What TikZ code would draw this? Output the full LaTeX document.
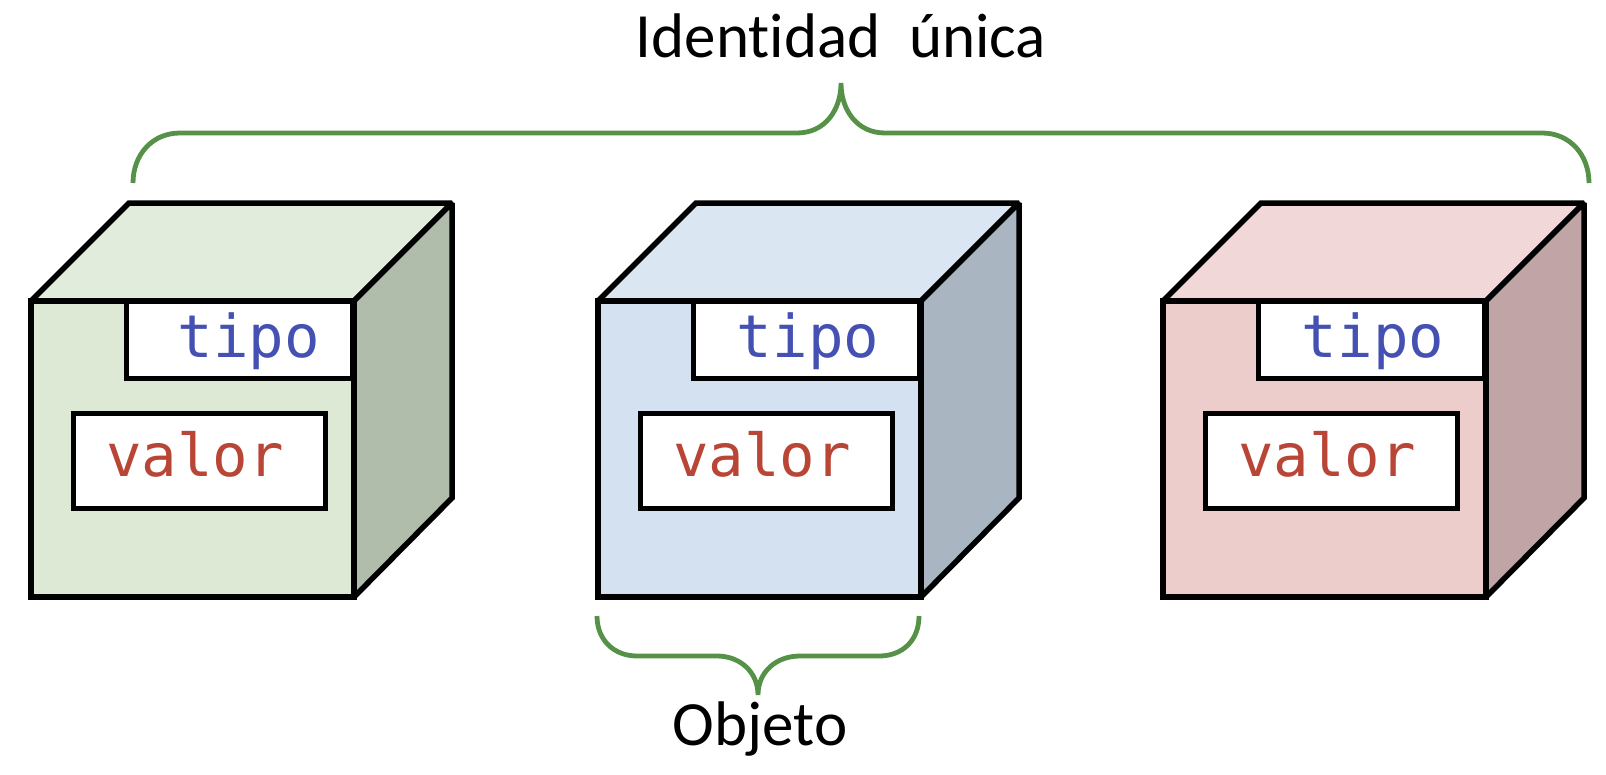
\documentclass[tikz,border=0pt]{standalone}
\usepackage{fontspec}
\setmainfont{Carlito}[Ligatures={NoCommon}]
\newfontfamily\codefont{DejaVu Sans Mono}
\definecolor{gfront}{HTML}{DDE8D5}
\definecolor{gtop}{HTML}{E2ECDD}
\definecolor{gside}{HTML}{B1BDAB}
\definecolor{bfront}{HTML}{D4E1F0}
\definecolor{btop}{HTML}{DBE6F3}
\definecolor{bside}{HTML}{A9B5C0}
\definecolor{rfront}{HTML}{EDCDCB}
\definecolor{rtop}{HTML}{F2D7D8}
\definecolor{rside}{HTML}{C1A4A5}
\definecolor{tipoc}{HTML}{4451B3}
\definecolor{valorc}{HTML}{B84535}
\definecolor{bracec}{HTML}{559147}
\tikzset{
  face/.style={draw=black, line width=5.5pt, line join=miter, miter limit=2},
  inbox/.style={draw=black, fill=white, line width=5pt, rectangle, inner sep=0pt},
  tipotxt/.style={text=tipoc, font=\codefont\fontsize{59}{59}\selectfont, anchor=base, inner sep=0pt},
  valortxt/.style={text=valorc, font=\codefont\fontsize{59}{59}\selectfont, anchor=base, inner sep=0pt},
  bracepath/.style={draw=bracec, line width=4.8pt},
  labeltxt/.style={font=\fontsize{63}{63}\selectfont, anchor=base, inner sep=0pt}
}
\begin{document}
\begin{tikzpicture}[x=1pt, y=-1pt]
\useasboundingbox (0,0) rectangle (1606,774);
% cubes
\foreach \xo/\fr/\tp/\sd/\n/\dx in {31/gfront/gtop/gside/1/8, 598/bfront/btop/bside/2/0, 1163/rfront/rtop/rside/3/0} {
  \fill[\fr] (\xo,301) rectangle ({\xo+323},597);
  \draw[face, fill=\tp] (\xo,301) -- ({\xo+98},203) -- ({\xo+421},203) -- ({\xo+323},301) -- cycle;
  \draw[face, fill=\sd] ({\xo+323},301) -- ({\xo+421},203) -- ({\xo+421},498) -- ({\xo+323},597) -- cycle;
  \draw[face] (\xo,301) rectangle ({\xo+323},597);
  \node[inbox, minimum width=226pt, minimum height=77pt] (tipobox\n) at ({\xo+208},339.5) {};
  \node[inbox, minimum width=252pt, minimum height=95pt] (valorbox\n) at ({\xo+168},460.5) {};
  \node[tipotxt] (tipo\n) at ({\xo+210+\dx},357) {tipo};
  \node[valortxt] (valor\n) at ({\xo+164},476) {valor};
}
% top brace
\draw[bracepath] (133,183) .. controls (133,155) and (152,133) .. (180,133) -- (797,133)
  .. controls (825,133) and (841,110) .. (841,83)
  .. controls (841,110) and (857,133) .. (885,133) -- (1542,133)
  .. controls (1570,133) and (1589,155) .. (1589,183);
\node[labeltxt] (ident) at (841,57) {Identidad\ \ única};
% bottom brace
\draw[bracepath] (597,616) .. controls (597,640) and (614,656) .. (637,656) -- (717,656)
  .. controls (740,656) and (758,672) .. (758,695)
  .. controls (758,672) and (776,656) .. (800,656) -- (879,656)
  .. controls (903,656) and (919,640) .. (919,616);
\node[labeltxt] (objeto) at (760,745) {Objeto};
\end{tikzpicture}
\end{document}
